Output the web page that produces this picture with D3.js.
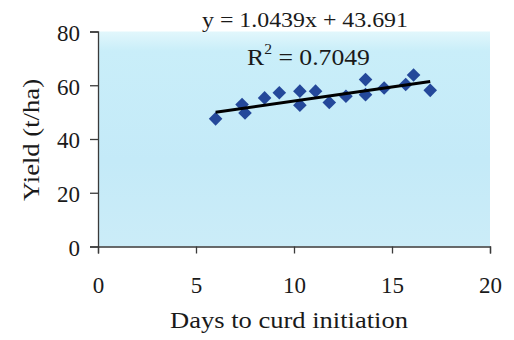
<!DOCTYPE html>
<html>
<head>
<meta charset="utf-8">
<script src="https://cdn.jsdelivr.net/npm/d3@7"></script>
<style>
  html, body { margin: 0; padding: 0; background: #ffffff; }
  svg { display: block; }
  text { font-family: "Liberation Serif", "Times New Roman", serif; fill: #1a1a1a; }
</style>
</head>
<body>
<svg id="chart" width="514" height="340"></svg>
<script>
// Days to curd initiation vs. yield (t/ha)
const days  = [6.0, 7.35, 7.5, 8.5, 9.25, 10.3, 10.3, 11.1, 11.8, 12.65, 13.65, 13.65, 14.6, 15.7, 16.1, 16.95];
const yieldTha = [47.5, 52.8, 49.7, 55.3, 57.2, 57.8, 52.6, 57.8, 53.6, 55.9, 62.1, 56.5, 59.0, 60.3, 63.8, 58.1];

// Linear trend reported for the series
const slope = 1.0439;
const intercept = 43.691;
const rSquared = "0.7049";

const xTicks = [0, 5, 10, 15, 20];
const yTicks = [0, 20, 40, 60, 80];

const xTitle = "Days to curd initiation";
const yTitle = "Yield (t/ha)";

const svg = d3.select("#chart");
const serif = '"Liberation Serif", "Times New Roman", serif';

const plotLeft = 98, plotRight = 490, plotTop = 31.5, plotBottom = 246.5;

const x = d3.scaleLinear().domain([0, 20]).range([plotLeft, plotRight]);
const y = d3.scaleLinear().domain([0, 80]).range([plotBottom, plotTop]);

// plot area background
const defs = svg.append("defs");
const grad = defs.append("linearGradient")
  .attr("id", "plotBg").attr("x1", 0).attr("y1", 0).attr("x2", 0).attr("y2", 1);
grad.append("stop").attr("offset", "0%").attr("stop-color", "#e2f7fc");
grad.append("stop").attr("offset", "9%").attr("stop-color", "#c9eef9");
grad.append("stop").attr("offset", "60%").attr("stop-color", "#c4eaf8");
grad.append("stop").attr("offset", "100%").attr("stop-color", "#cbecf8");

svg.append("rect")
  .attr("x", plotLeft).attr("y", plotTop)
  .attr("width", plotRight - plotLeft).attr("height", plotBottom - plotTop)
  .attr("fill", "url(#plotBg)");

// axes
const yAxis = svg.append("g")
  .attr("transform", `translate(${plotLeft},0)`)
  .call(d3.axisLeft(y).tickValues(yTicks).tickSize(8).tickPadding(10).tickFormat(d3.format("d")));
const xAxis = svg.append("g")
  .attr("transform", `translate(0,${plotBottom})`)
  .call(d3.axisBottom(x).tickValues(xTicks).tickSize(7).tickPadding(23).tickFormat(d3.format("d")));

[xAxis, yAxis].forEach(g => {
  g.attr("font-family", null).attr("font-size", null);
  g.select(".domain").attr("stroke", "#3a3a3a").attr("stroke-width", 1.3);
  g.selectAll(".tick line").attr("stroke", "#3a3a3a").attr("stroke-width", 1.3);
  g.selectAll(".tick text")
    .attr("fill", "#1a1a1a")
    .style("font-family", serif)
    .style("font-size", "23px");
});
yAxis.selectAll(".tick text").attr("dy", "0.38em");
xAxis.selectAll(".tick text").attr("dy", "0.71em");

// markers
const diamond = "M0,-6.8L6.8,0L0,6.8L-6.8,0Z";
svg.append("g").selectAll("path")
  .data(days.map((d, i) => [d, yieldTha[i]]))
  .join("path")
  .attr("d", diamond)
  .attr("transform", d => `translate(${x(d[0])},${y(d[1])})`)
  .attr("fill", "#24489a");

// trend line over the range of the data
const [xMin, xMax] = d3.extent(days);
svg.append("line")
  .attr("x1", x(xMin)).attr("y1", y(slope * xMin + intercept))
  .attr("x2", x(xMax)).attr("y2", y(slope * xMax + intercept))
  .attr("stroke", "#000").attr("stroke-width", 3);

// equation labels
svg.append("text")
  .attr("x", 305).attr("y", 27)
  .attr("text-anchor", "middle")
  .attr("font-size", 22)
  .attr("textLength", 206).attr("lengthAdjust", "spacingAndGlyphs")
  .text(`y = ${slope}x + ${intercept}`);

const r2 = svg.append("text")
  .attr("x", 247).attr("y", 65)
  .attr("font-size", 23)
  .attr("textLength", 123).attr("lengthAdjust", "spacingAndGlyphs");
r2.append("tspan").text("R");
r2.append("tspan").attr("font-size", 14).attr("dy", -11).text("2");
r2.append("tspan").attr("dy", 11).text(` = ${rSquared}`);

// axis titles
svg.append("text")
  .attr("x", 289).attr("y", 328)
  .attr("text-anchor", "middle")
  .attr("font-size", 23)
  .attr("textLength", 238).attr("lengthAdjust", "spacingAndGlyphs")
  .text(xTitle);

svg.append("text")
  .attr("transform", "translate(39,140) rotate(-90)")
  .attr("text-anchor", "middle")
  .attr("font-size", 23)
  .attr("textLength", 122).attr("lengthAdjust", "spacingAndGlyphs")
  .text(yTitle);
</script>
</body>
</html>
